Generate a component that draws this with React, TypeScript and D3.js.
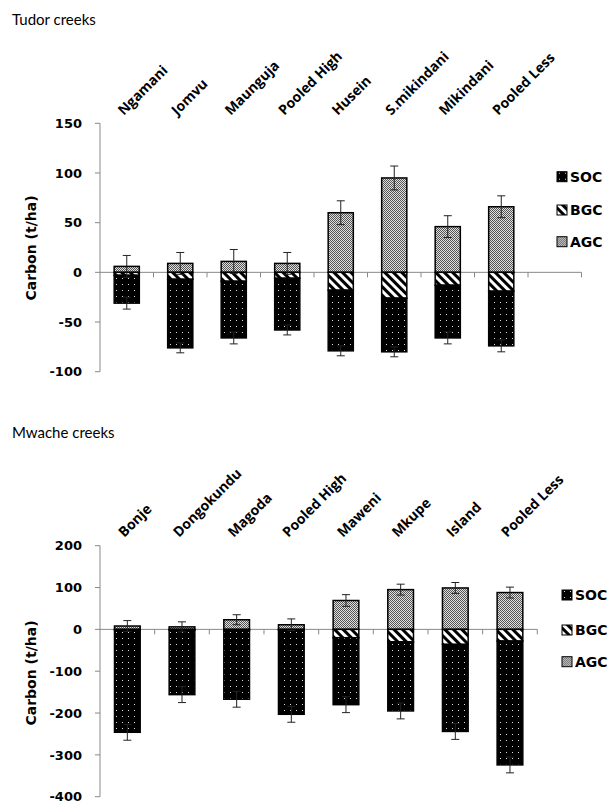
import * as d3 from 'd3';
import { useEffect } from 'react';

// Tudor creeks
const tudorSites = ["Ngamani", "Jomvu", "Maunguja", "Pooled High", "Husein", "S.mikindani", "Mikindani", "Pooled Less"];
const tudorAGC = [6, 9, 11, 9, 60, 95, 46, 66];
const tudorBGC = [3, 7, 9, 6, 18, 26, 13, 19];
const tudorSOC = [28, 69, 57, 52, 61, 54, 53, 55];
const tudorAGCErr = [11, 11, 12, 11, 12, 12, 11, 11];
const tudorSOCErr = [6, 5, 6, 5, 5, 5, 6, 6];
const tudorTicks = [150, 100, 50, 0, -50, -100];

// Mwache creeks
const mwacheSites = ["Bonje", "Dongokundu", "Magoda", "Pooled High", "Maweni", "Mkupe", "Island", "Pooled Less"];
const mwacheAGC = [8, 6, 23, 11, 69, 95, 99, 88];
const mwacheBGC = [2, 2, 3, 2, 20, 30, 36, 28];
const mwacheSOC = [244, 154, 164, 201, 160, 165, 208, 296];
const mwacheAGCErr = [13, 12, 12, 14, 14, 13, 13, 13];
const mwacheSOCErr = [19, 19, 19, 19, 19, 19, 19, 19];
const mwacheTicks = [200, 100, 0, -100, -200, -300, -400];

const legendItems = ["SOC", "BGC", "AGC"];
const fills: Record<string, string> = { SOC: "url(#pSOC)", BGC: "url(#pBGC)", AGC: "url(#pAGC)" };

const boldFont = "DejaVu Sans, Verdana, sans-serif";
const labelFont = "Open Sans, Lato, sans-serif";
const titleFont = "Lato, Open Sans, sans-serif";

function Panel({ title, titleY, sites, agc, bgc, soc, agcErr, socErr, ticks, yRange, xEnd, nBands, labelY, legendX, legendY, axisLabelY }) {
  const domain = d3.range(nBands).map(i => (i < sites.length ? sites[i] : "_" + i));
  const x = d3.scaleBand().domain(domain).range([100, xEnd]).paddingInner(0.53).paddingOuter(0.265);
  const y = d3.scaleLinear().domain([ticks[ticks.length - 1], ticks[0]]).range(yRange);
  const step = x.step();
  const bw = x.bandwidth();
  const y0 = y(0);

  return (
    <g>
      <text x={12} y={titleY} fontFamily={titleFont} fontSize={15} fill="#000">{title}</text>
      {/* y axis */}
      <line x1={100} x2={100} y1={y(ticks[0])} y2={y(ticks[ticks.length - 1])} stroke="#888" />
      {ticks.map(t => (
        <g key={t}>
          <line x1={95} x2={100} y1={y(t)} y2={y(t)} stroke="#888" />
          <text x={82} y={y(t)} dy="0.36em" textAnchor="end" fontFamily={boldFont} fontWeight="bold" fontSize={13}>{t}</text>
        </g>
      ))}
      <text transform={`translate(31,${axisLabelY}) rotate(-90)`} textAnchor="middle" dy="0.36em"
        fontFamily={boldFont} fontWeight="bold" fontSize={14}>Carbon (t/ha)</text>
      {/* x axis at zero */}
      <line x1={100} x2={xEnd} y1={y0} y2={y0} stroke="#888" />
      {d3.range(1, nBands + 1).map(k => (
        <line key={k} x1={100 + step * k} x2={100 + step * k} y1={y0} y2={y0 + 5} stroke="#888" />
      ))}
      {/* category labels */}
      {sites.map(s => {
        const cx = x(s) + bw / 2;
        return (
          <text key={s} transform={`translate(${cx - 3},${labelY}) rotate(-45)`} fontFamily={labelFont}
            fontWeight="bold" fontSize={14}>{s}</text>
        );
      })}
      {/* bars */}
      {sites.map((s, i) => {
        const bx = x(s);
        const bottom = -(bgc[i] + soc[i]);
        return (
          <g key={s} stroke="#000" strokeWidth={1.5}>
            <rect x={bx} y={y(agc[i])} width={bw} height={y0 - y(agc[i])} fill={fills.AGC} />
            <rect x={bx} y={y0} width={bw} height={y(-bgc[i]) - y0} fill={fills.BGC} />
            <rect x={bx} y={y(-bgc[i])} width={bw} height={y(bottom) - y(-bgc[i])} fill={fills.SOC} />
          </g>
        );
      })}
      {/* error bars */}
      {sites.map((s, i) => {
        const cx = x(s) + bw / 2;
        const bottom = -(bgc[i] + soc[i]);
        const bars = [
          [agc[i] - agcErr[i], agc[i] + agcErr[i]],
          [bottom - socErr[i], bottom + socErr[i]],
        ];
        return (
          <g key={s} stroke="#222" strokeWidth={1}>
            {bars.map(([lo, hi], j) => (
              <g key={j}>
                <line x1={cx} x2={cx} y1={y(lo)} y2={y(hi)} />
                <line x1={cx - 4} x2={cx + 4} y1={y(lo)} y2={y(lo)} />
                <line x1={cx - 4} x2={cx + 4} y1={y(hi)} y2={y(hi)} />
              </g>
            ))}
          </g>
        );
      })}
      {/* legend */}
      {legendItems.map((k, i) => (
        <g key={k} transform={`translate(${legendX},${legendY[i]})`}>
          <rect x={0} y={-5} width={10} height={10} fill={fills[k]} stroke="#000" strokeWidth={1} />
          <text x={13} y={0} dy="0.36em" fontFamily={boldFont} fontWeight="bold" fontSize={14}>{k}</text>
        </g>
      ))}
    </g>
  );
}

export default function App() {
  useEffect(() => {
    document.body.style.margin = "0";
  }, []);

  return (
    <svg width={611} height={805} style={{ display: "block", background: "#fff" }}>
      <defs>
        <pattern id="pSOC" width={6} height={6} patternUnits="userSpaceOnUse">
          <rect width={6} height={6} fill="#000" />
          <rect x={2} y={2} width={1} height={1} fill="#ddd" />
        </pattern>
        <pattern id="pBGC" width={6} height={6} patternUnits="userSpaceOnUse" patternTransform="rotate(-45)">
          <rect width={6} height={6} fill="#fff" />
          <rect width={3} height={6} fill="#000" />
        </pattern>
        <pattern id="pAGC" width={2} height={2} patternUnits="userSpaceOnUse">
          <rect width={2} height={2} fill="#e0e0e0" />
          <rect x={0} y={0} width={1} height={1} fill="#555" />
          <rect x={1} y={1} width={1} height={1} fill="#555" />
        </pattern>
      </defs>
      <Panel title="Tudor creeks" titleY={25} sites={tudorSites} agc={tudorAGC} bgc={tudorBGC} soc={tudorSOC}
        agcErr={tudorAGCErr} socErr={tudorSOCErr} ticks={tudorTicks} yRange={[371.7, 123.3]} xEnd={581.5} nBands={9}
        labelY={116} legendX={557} legendY={[176.7, 210, 241.7]} axisLabelY={248} />
      <Panel title="Mwache creeks" titleY={438} sites={mwacheSites} agc={mwacheAGC} bgc={mwacheBGC} soc={mwacheSOC}
        agcErr={mwacheAGCErr} socErr={mwacheSOCErr} ticks={mwacheTicks} yRange={[796.7, 545.7]} xEnd={537.3} nBands={8}
        labelY={538} legendX={562} legendY={[595, 630, 661.7]} axisLabelY={673} />
    </svg>
  );
}
